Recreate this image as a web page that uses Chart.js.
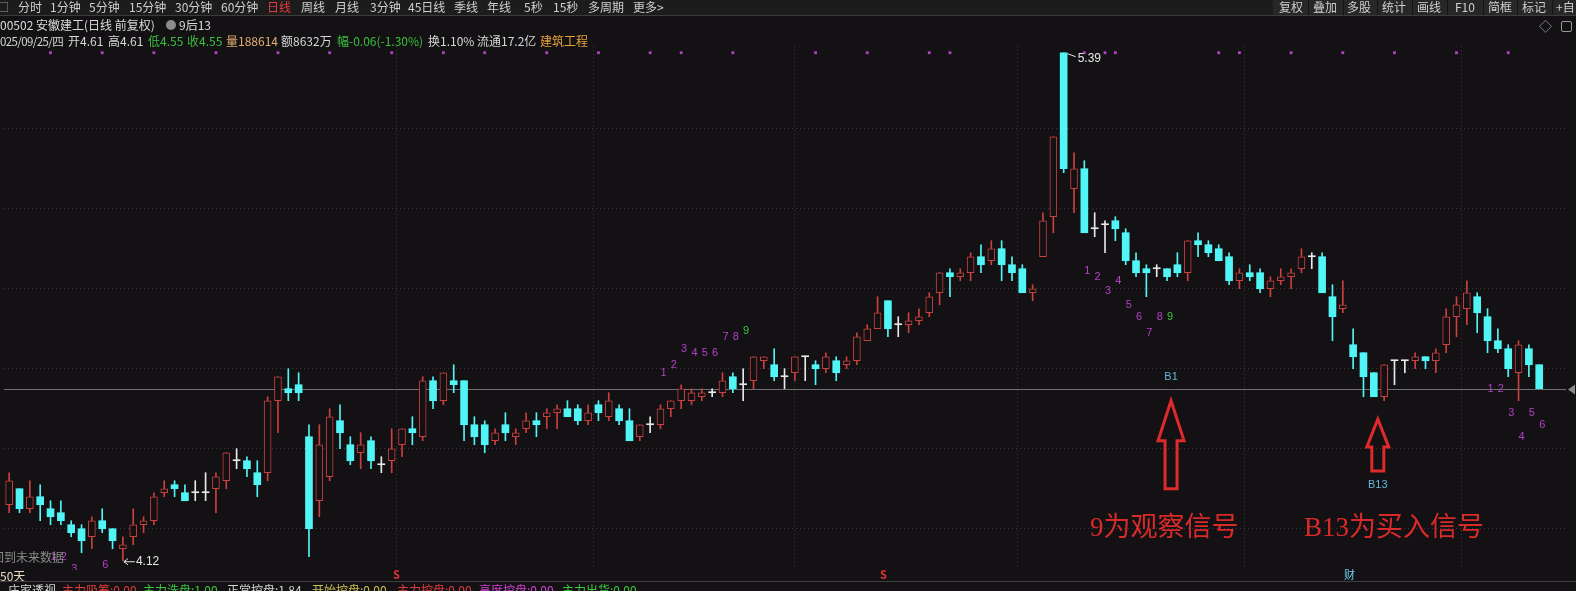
<!DOCTYPE html>
<html>
<head>
<meta charset="utf-8">
<script src="https://cdn.jsdelivr.net/npm/chart.js@4.4.1/dist/chart.umd.min.js"></script>
<style>
  html, body { margin: 0; padding: 0; background: #131114; width: 1576px; height: 591px; overflow: hidden; }
  body { font-family: "Noto Sans CJK SC", "Noto Sans", sans-serif; }
  #wrap { position: relative; width: 1576px; height: 591px; }
  #kline { position: absolute; left: 0; top: 0; }
  .t { position: absolute; white-space: nowrap; font-size: 12px; line-height: 14px; color: #d6d6d6; }
  #bar { position: absolute; left: 0; top: 0; width: 1576px; height: 15px; background: #1c1c1c; border-bottom: 1px solid #3c3c3c; }
  #btns { position: absolute; left: 1273px; top: 0; width: 303px; height: 15px; background: #272727; }
  .sep { position: absolute; top: 0; width: 1px; height: 15px; background: #141414; }
  .big { position: absolute; white-space: nowrap; font-family: "Liberation Serif", "Noto Sans CJK SC", serif; font-size: 27px; line-height: 30px; color: #d92a2a; }
</style>
</head>
<body>
<div id="wrap">
  <canvas id="kline" width="1576" height="591"></canvas>

  <div id="bar"></div>
  <div id="btns"></div>

  <div class="big" style="left:1090px; top:512px;">9为观察信号</div>
  <div class="big" style="left:1304px; top:512px;">B13为买入信号</div>
</div>

<script>
// 安徽建工 日线 (前复权) —— 每根K线的开高低收
const opens = [4.26, 4.30, 4.25, 4.28, 4.25, 4.24, 4.21, 4.20, 4.18, 4.22,
  4.20, 4.15, 4.18, 4.21, 4.22, 4.29, 4.31, 4.29, 4.29, 4.29,
  4.30, 4.32, 4.37, 4.37, 4.34, 4.34, 4.52, 4.55, 4.56, 4.43,
  4.27, 4.33, 4.47, 4.41, 4.39, 4.42, 4.36, 4.37, 4.41, 4.45,
  4.43, 4.57, 4.52, 4.57, 4.57, 4.46, 4.46, 4.42, 4.46, 4.43,
  4.45, 4.47, 4.48, 4.49, 4.50, 4.50, 4.47, 4.51, 4.48, 4.50,
  4.47, 4.43, 4.46, 4.46, 4.50, 4.52, 4.52, 4.53, 4.54, 4.54,
  4.58, 4.56, 4.57, 4.62, 4.61, 4.58, 4.59, 4.63, 4.61, 4.60,
  4.62, 4.61, 4.62, 4.67, 4.70, 4.77, 4.71, 4.71, 4.72, 4.74,
  4.79, 4.84, 4.83, 4.84, 4.88, 4.87, 4.90, 4.86, 4.85, 4.79,
  4.88, 4.98, 5.39, 5.05, 5.10, 4.95, 4.96, 4.97, 4.94, 4.87,
  4.85, 4.85, 4.85, 4.86, 4.84, 4.92, 4.91, 4.90, 4.88, 4.82,
  4.84, 4.84, 4.80, 4.82, 4.83, 4.85, 4.88, 4.88, 4.78, 4.75,
  4.66, 4.64, 4.59, 4.53, 4.62, 4.62, 4.62, 4.63, 4.62, 4.66,
  4.73, 4.75, 4.78, 4.73, 4.67, 4.65, 4.59, 4.65, 4.61]
const highs = [4.34, 4.30, 4.32, 4.31, 4.27, 4.27, 4.22, 4.21, 4.23, 4.25,
  4.20, 4.18, 4.25, 4.23, 4.29, 4.32, 4.32, 4.31, 4.32, 4.34,
  4.34, 4.39, 4.40, 4.38, 4.37, 4.53, 4.58, 4.60, 4.59, 4.46,
  4.46, 4.50, 4.51, 4.43, 4.44, 4.43, 4.38, 4.45, 4.45, 4.48,
  4.58, 4.58, 4.59, 4.61, 4.57, 4.48, 4.47, 4.45, 4.49, 4.45,
  4.49, 4.49, 4.50, 4.51, 4.52, 4.51, 4.51, 4.52, 4.54, 4.51,
  4.50, 4.46, 4.48, 4.51, 4.52, 4.56, 4.55, 4.55, 4.55, 4.59,
  4.59, 4.60, 4.63, 4.63, 4.65, 4.60, 4.63, 4.63, 4.62, 4.64,
  4.63, 4.63, 4.69, 4.71, 4.78, 4.77, 4.73, 4.74, 4.75, 4.79,
  4.84, 4.85, 4.85, 4.89, 4.91, 4.92, 4.92, 4.88, 4.86, 4.81,
  4.99, 5.18, 5.39, 5.14, 5.12, 4.99, 4.97, 4.98, 4.95, 4.89,
  4.86, 4.86, 4.85, 4.89, 4.92, 4.94, 4.92, 4.91, 4.89, 4.85,
  4.86, 4.85, 4.83, 4.85, 4.85, 4.90, 4.89, 4.89, 4.81, 4.82,
  4.70, 4.64, 4.59, 4.61, 4.62, 4.62, 4.64, 4.63, 4.65, 4.75,
  4.78, 4.82, 4.79, 4.75, 4.70, 4.66, 4.67, 4.66, 4.61]
const lows = [4.24, 4.24, 4.24, 4.22, 4.21, 4.21, 4.18, 4.14, 4.15, 4.19,
  4.15, 4.12, 4.16, 4.19, 4.21, 4.28, 4.28, 4.27, 4.27, 4.27,
  4.24, 4.30, 4.35, 4.33, 4.28, 4.32, 4.44, 4.52, 4.52, 4.13,
  4.23, 4.32, 4.40, 4.36, 4.35, 4.35, 4.34, 4.34, 4.38, 4.41,
  4.42, 4.50, 4.51, 4.54, 4.42, 4.41, 4.39, 4.41, 4.42, 4.41,
  4.44, 4.43, 4.45, 4.45, 4.48, 4.46, 4.46, 4.47, 4.47, 4.46,
  4.42, 4.42, 4.44, 4.45, 4.48, 4.50, 4.51, 4.52, 4.53, 4.53,
  4.54, 4.52, 4.55, 4.60, 4.57, 4.55, 4.57, 4.57, 4.56, 4.59,
  4.57, 4.60, 4.61, 4.67, 4.70, 4.68, 4.68, 4.69, 4.71, 4.73,
  4.76, 4.78, 4.82, 4.82, 4.84, 4.86, 4.82, 4.82, 4.79, 4.77,
  4.88, 4.94, 5.09, 4.99, 4.94, 4.93, 4.89, 4.92, 4.86, 4.83,
  4.78, 4.83, 4.82, 4.83, 4.82, 4.88, 4.88, 4.87, 4.81, 4.80,
  4.82, 4.79, 4.78, 4.81, 4.80, 4.84, 4.85, 4.79, 4.67, 4.74,
  4.60, 4.53, 4.53, 4.52, 4.56, 4.59, 4.60, 4.60, 4.59, 4.64,
  4.68, 4.71, 4.69, 4.64, 4.64, 4.58, 4.52, 4.58, 4.55]
const closes = [4.32, 4.25, 4.28, 4.26, 4.23, 4.22, 4.19, 4.17, 4.22, 4.20,
  4.17, 4.16, 4.21, 4.22, 4.28, 4.30, 4.30, 4.27, 4.29, 4.29,
  4.33, 4.39, 4.37, 4.35, 4.31, 4.52, 4.58, 4.54, 4.54, 4.20,
  4.41, 4.48, 4.44, 4.37, 4.41, 4.37, 4.36, 4.40, 4.45, 4.44,
  4.57, 4.52, 4.59, 4.56, 4.46, 4.43, 4.41, 4.44, 4.44, 4.44,
  4.47, 4.46, 4.49, 4.50, 4.48, 4.47, 4.49, 4.49, 4.52, 4.47,
  4.42, 4.46, 4.46, 4.50, 4.52, 4.55, 4.54, 4.54, 4.54, 4.57,
  4.55, 4.56, 4.63, 4.63, 4.58, 4.58, 4.63, 4.63, 4.60, 4.63,
  4.59, 4.62, 4.68, 4.70, 4.74, 4.70, 4.71, 4.72, 4.73, 4.78,
  4.84, 4.83, 4.84, 4.88, 4.86, 4.90, 4.86, 4.84, 4.79, 4.80,
  4.97, 5.18, 5.10, 5.10, 4.94, 4.95, 4.96, 4.95, 4.87, 4.84,
  4.84, 4.85, 4.83, 4.84, 4.92, 4.91, 4.89, 4.87, 4.82, 4.84,
  4.83, 4.80, 4.82, 4.83, 4.84, 4.88, 4.88, 4.79, 4.73, 4.76,
  4.63, 4.58, 4.53, 4.61, 4.62, 4.62, 4.63, 4.62, 4.64, 4.73,
  4.76, 4.79, 4.74, 4.67, 4.65, 4.60, 4.66, 4.61, 4.55]

// 月份分隔(竖虚线)所在的K线序号, 横向价格网格
const monthStarts = [47, 66, 86, 109, 130]
const gridPrices = [4.2, 4.4, 4.6, 4.8, 5.0, 5.2]

// 顶部紫色信号点
const dotIdx = [4, 9, 14, 20, 26, 31, 37, 42, 46, 52, 57, 62, 65, 70, 78, 83, 89, 91, 104, 106, 107, 117, 119, 124, 129, 134, 140, 145]
const dotLevel = 5.39

// 九转计数 (序号 / 文字 / 价位)
const countIdx = [4, 5, 6, 9,
  63, 64, 65, 66, 67, 68, 69, 70, 71,
  104, 105, 106, 107, 108, 109, 110, 111, 112,
  143, 144, 145, 146, 147, 148]
const countText = ['1', '2', '3', '6',
  '1', '2', '3', '4', '5', '6', '7', '8', '9',
  '1', '2', '3', '4', '5', '6', '7', '8', '9',
  '1', '2', '3', '4', '5', '6']
const countPrice = [4.13, 4.13, 4.10, 4.11,
  4.59, 4.61, 4.65, 4.64, 4.64, 4.64, 4.68, 4.68, 4.695,
  4.845, 4.83, 4.795, 4.82, 4.76, 4.73, 4.69, 4.73, 4.73,
  4.55, 4.55, 4.49, 4.43, 4.49, 4.46]

// 买点标记
const signalIdx = [112, 132]
const signalText = ['B1', 'B13']
const signalPrice = [4.58, 4.31]

const RED = '#c8413f'
const CYAN = '#52f5f5'
const WHITE = '#e8e8e8'
const BG = '#131114'
const MAGENTA = '#b540c8'

// ---------- 顶部工具栏和行情信息 ----------
const toolbar = [
  ['分时', 18], ['1分钟', 50], ['5分钟', 89], ['15分钟', 129], ['30分钟', 175], ['60分钟', 221],
  ['日线', 267], ['周线', 301], ['月线', 335], ['3分钟', 370], ['45日线', 408], ['季线', 454],
  ['年线', 487], ['5秒', 524], ['15秒', 553], ['多周期', 588], ['更多>', 633],
  ['复权', 1279], ['叠加', 1313], ['多股', 1347], ['统计', 1382], ['画线', 1417],
  ['F10', 1455], ['简框', 1488], ['标记', 1522], ['+自', 1556]
]
const infoLine = [
  ['025/09/25/四', 0, '#d6d6d6'], ['开4.61', 68, '#d6d6d6'], ['高4.61', 108, '#d6d6d6'],
  ['低4.55', 148, '#3cbf3c'], ['收4.55', 187, '#3cbf3c'], ['量188614', 226, '#e2ad72'],
  ['额8632万', 281, '#d6d6d6'], ['幅-0.06(-1.30%)', 337, '#3cbf3c'], ['换1.10%', 428, '#d6d6d6'],
  ['流通17.2亿', 477, '#d6d6d6'], ['建筑工程', 540, '#e8a23c']
]
const bottomLine = [
  ['庄家透视', 8, '#d6d6d6'], ['主力吸筹:0.00', 62, '#e03c3c'], ['主力洗盘:1.00', 143, '#3cc83c'],
  ['正常控盘:1.84', 227, '#d6d6d6'], ['开始控盘:0.00', 312, '#c8c050'], ['主力控盘:0.00', 397, '#e03c3c'],
  ['高度控盘:0.00', 479, '#d040d0'], ['主力出货:0.00', 562, '#3cc83c']
]

function addText(parent, text, left, top, color, extra) {
  const d = document.createElement('div')
  d.className = 't'
  d.textContent = text
  d.style.left = left + 'px'
  d.style.top = top + 'px'
  if (color) d.style.color = color
  if (extra) Object.assign(d.style, extra)
  parent.appendChild(d)
  return d
}

const wrap = document.getElementById('wrap')
for (const [txt, left] of toolbar) {
  addText(wrap, txt, left, 0, txt === '日线' ? '#e23c3c' : '#cfcfcf', { zIndex: 3 })
}
for (const sx of [1308, 1343, 1377, 1412, 1447, 1483, 1517, 1552]) {
  const s = document.createElement('div')
  s.className = 'sep'
  s.style.left = sx + 'px'
  wrap.appendChild(s)
}
addText(wrap, '□', -3, 0, '#9a9a9a', { zIndex: 3 })
addText(wrap, '00502 安徽建工(日线 前复权)', 0, 18, '#dcdcdc')
const icon = document.createElement('div')
Object.assign(icon.style, { position: 'absolute', left: '166px', top: '20px', width: '10px', height: '10px', borderRadius: '50%', background: '#8c8c8c' })
wrap.appendChild(icon)
addText(wrap, '9后13', 179, 18, '#dcdcdc')
addText(wrap, '◇', 1539, 19, '#9a9a9a', { fontSize: '13px' })
const box = document.createElement('div')
Object.assign(box.style, { position: 'absolute', left: '1561px', top: '21px', width: '9px', height: '9px', border: '1px solid #9a9a9a', borderRadius: '2px' })
wrap.appendChild(box)
for (const [txt, left, color] of infoLine) {
  const d = addText(wrap, txt, left, 34, color)
  if (left === 0) { d.style.letterSpacing = '-0.6px'; d.style.fontSize = '11.5px' }
}

addText(wrap, '回到未来数据', -8, 550, '#8a8a8a')
addText(wrap, '50天', 0, 569, '#e8dcc0')
const line = document.createElement('div')
Object.assign(line.style, { position: 'absolute', left: '0px', top: '581px', width: '1576px', height: '1px', background: '#3e3e3e' })
wrap.appendChild(line)
for (const [txt, left, color] of bottomLine) addText(wrap, txt, left, 583, color)
addText(wrap, 'S', 393, 567, '#e03030', { fontSize: '11px', fontWeight: 'bold' })
addText(wrap, 'S', 880, 567, '#e03030', { fontSize: '11px', fontWeight: 'bold' })
addText(wrap, '财', 1344, 567, '#6ccdf0', { fontSize: '11px' })

// ---------- K线图 ----------
function candleColor(i) {
  if (closes[i] > opens[i]) return RED
  if (closes[i] < opens[i]) return CYAN
  return WHITE
}

const bodyData = opens.map((o, i) => ({ x: i, y: [o, closes[i]] }))
const wickData = lows.map((l, i) => ({ x: i, y: [l, highs[i]] }))
const dotData = dotIdx.map(i => ({ x: i, y: dotLevel }))

const annotate = {
  id: 'annotate',
  beforeDatasetsDraw(chart) {
    const { ctx, chartArea, scales: { y } } = chart
    const py = Math.round(y.getPixelForValue(closes[closes.length - 1])) + 0.5
    ctx.save()
    ctx.strokeStyle = '#707070'
    ctx.lineWidth = 1
    ctx.beginPath()
    ctx.moveTo(chartArea.left, py)
    ctx.lineTo(chartArea.right, py)
    ctx.stroke()
    // 右侧现价三角
    ctx.fillStyle = '#8a8a8a'
    ctx.beginPath()
    ctx.moveTo(chart.width - 8, py)
    ctx.lineTo(chart.width - 1, py - 5)
    ctx.lineTo(chart.width - 1, py + 5)
    ctx.closePath()
    ctx.fill()
    ctx.restore()
  },
  afterDatasetsDraw(chart) {
    const { ctx, chartArea, scales: { x, y } } = chart
    ctx.save()
    ctx.beginPath()
    ctx.rect(chartArea.left, chartArea.top - 10, chartArea.right - chartArea.left, chartArea.bottom - chartArea.top + 10)
    ctx.clip()

    // 九转数字
    ctx.font = '11px "Liberation Sans", Arial, sans-serif'
    ctx.textAlign = 'center'
    ctx.textBaseline = 'middle'
    for (let k = 0; k < countIdx.length; k++) {
      ctx.fillStyle = countText[k] === '9' ? '#3cc83c' : MAGENTA
      ctx.fillText(countText[k], x.getPixelForValue(countIdx[k]) + 3, y.getPixelForValue(countPrice[k]))
    }

    // B1 / B13
    ctx.fillStyle = '#62b8da'
    for (let k = 0; k < signalIdx.length; k++) {
      ctx.fillText(signalText[k], x.getPixelForValue(signalIdx[k]) + 4, y.getPixelForValue(signalPrice[k]))
    }

    // 红色空心箭头
    const arrows = [
      { idx: 112, top: 4.52, bottom: 4.30, headLen: 40, headHalf: 13, shaftHalf: 6 },
      { idx: 132, top: 4.474, bottom: 4.344, headLen: 28, headHalf: 11, shaftHalf: 6 }
    ]
    ctx.strokeStyle = '#dd2a2a'
    ctx.lineWidth = 3
    ctx.lineJoin = 'miter'
    for (const a of arrows) {
      const ax = x.getPixelForValue(a.idx) + 4
      const tip = y.getPixelForValue(a.top)
      const bot = y.getPixelForValue(a.bottom)
      ctx.beginPath()
      ctx.moveTo(ax, tip)
      ctx.lineTo(ax + a.headHalf, tip + a.headLen)
      ctx.lineTo(ax + a.shaftHalf, tip + a.headLen)
      ctx.lineTo(ax + a.shaftHalf, bot)
      ctx.lineTo(ax - a.shaftHalf, bot)
      ctx.lineTo(ax - a.shaftHalf, tip + a.headLen)
      ctx.lineTo(ax - a.headHalf, tip + a.headLen)
      ctx.closePath()
      ctx.stroke()
    }

    // 最高价 / 最低价标注
    let hi = 0
    let lo = 0
    for (let i = 1; i < highs.length; i++) {
      if (highs[i] > highs[hi]) hi = i
      if (lows[i] < lows[lo]) lo = i
    }
    ctx.font = '12px "Liberation Sans", Arial, sans-serif'
    ctx.fillStyle = '#e6e6e6'
    ctx.strokeStyle = '#e6e6e6'
    ctx.lineWidth = 1
    ctx.textAlign = 'left'
    let px = x.getPixelForValue(hi)
    let py = y.getPixelForValue(highs[hi])
    ctx.beginPath()
    ctx.moveTo(px + 4, py + 1)
    ctx.lineTo(px + 12, py + 4)
    ctx.stroke()
    ctx.fillText(highs[hi].toFixed(2), px + 14, py + 6)
    px = x.getPixelForValue(lo)
    py = y.getPixelForValue(lows[lo])
    ctx.beginPath()
    ctx.moveTo(px + 1, py + 1)
    ctx.lineTo(px + 12, py + 1)
    ctx.moveTo(px + 1, py + 1)
    ctx.lineTo(px + 5, py - 2)
    ctx.moveTo(px + 1, py + 1)
    ctx.lineTo(px + 5, py + 4)
    ctx.stroke()
    ctx.fillText(lows[lo].toFixed(2), px + 13, py + 1)
    ctx.restore()
  }
}

const config = {
  type: 'bar',
  data: {
    datasets: [
      {
        label: 'body',
        data: bodyData,
        grouped: false,
        barThickness: 7,
        minBarLength: 1,
        order: 0,
        borderSkipped: false,
        backgroundColor: ctx => (closes[ctx.dataIndex] > opens[ctx.dataIndex] ? BG : candleColor(ctx.dataIndex)),
        borderColor: ctx => candleColor(ctx.dataIndex),
        borderWidth: ctx => (closes[ctx.dataIndex] > opens[ctx.dataIndex] ? 1 : 0)
      },
      {
        label: 'wick',
        data: wickData,
        grouped: false,
        barThickness: 1,
        order: 1,
        borderSkipped: false,
        borderWidth: 0,
        backgroundColor: ctx => candleColor(ctx.dataIndex)
      },
      {
        type: 'scatter',
        label: 'dots',
        data: dotData,
        order: 2,
        pointStyle: 'rect',
        pointRadius: 2,
        pointBackgroundColor: MAGENTA,
        pointBorderWidth: 0
      }
    ]
  },
  options: {
    responsive: false,
    animation: false,
    events: [],
    devicePixelRatio: 1,
    layout: { padding: { top: 46, bottom: 21, left: 0, right: 10 } },
    plugins: {
      legend: { display: false },
      tooltip: { enabled: false },
      title: { display: false }
    },
    scales: {
      x: {
        type: 'linear',
        min: -0.5,
        max: 150.59,
        offset: false,
        afterBuildTicks: axis => {
          axis.ticks = monthStarts.map(v => ({ value: v }))
        },
        ticks: { display: false },
        grid: { color: '#3a383c', drawTicks: false, lineWidth: 1 },
        border: { display: false, dash: [1, 3] }
      },
      y: {
        type: 'linear',
        min: 4.0968,
        max: 5.4068,
        afterBuildTicks: axis => {
          axis.ticks = gridPrices.map(v => ({ value: v }))
        },
        ticks: { display: false },
        grid: { color: '#3a383c', drawTicks: false, lineWidth: 1 },
        border: { display: false, dash: [1, 3] }
      }
    }
  },
  plugins: [annotate]
}

new Chart(document.getElementById('kline').getContext('2d'), config)
</script>
</body>
</html>
